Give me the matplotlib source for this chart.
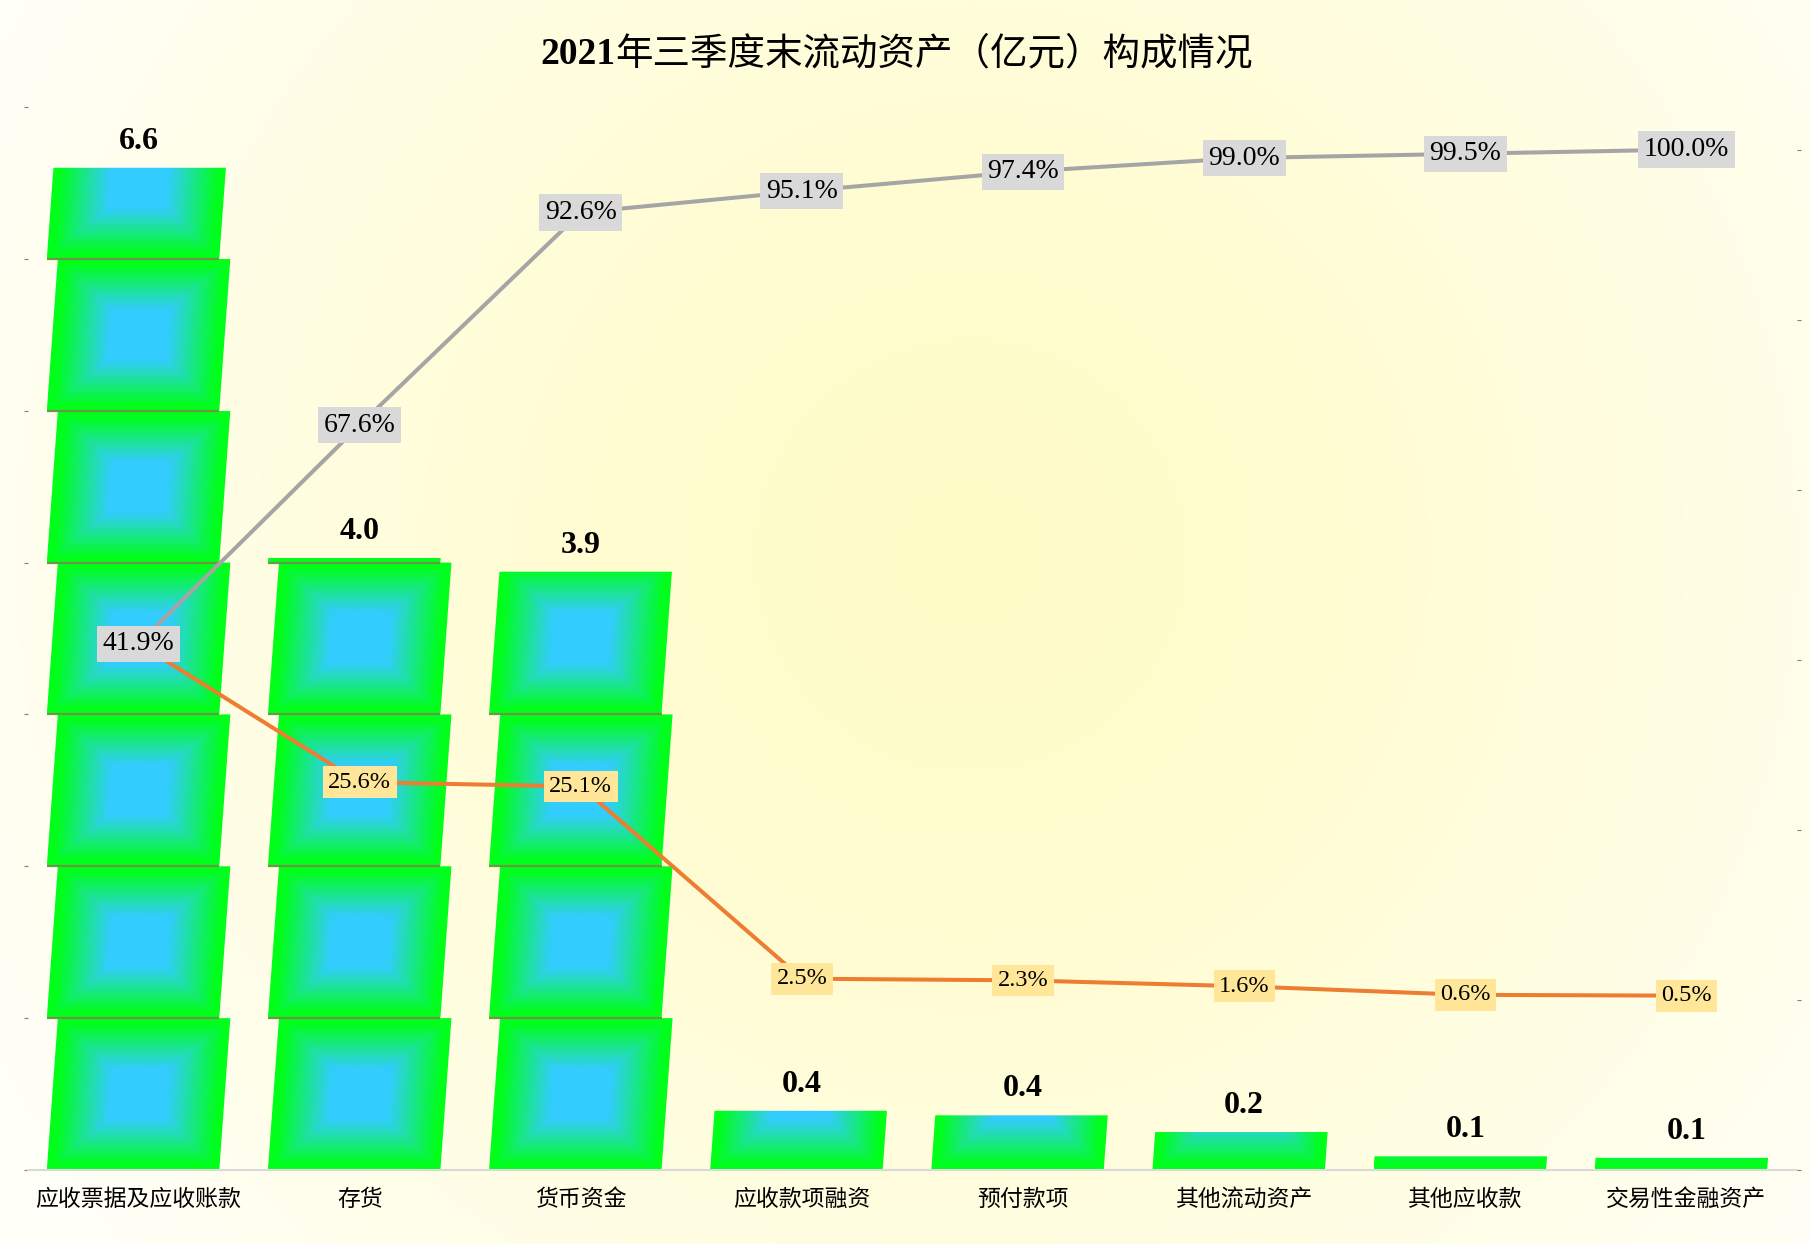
import numpy as np
import matplotlib.pyplot as plt
from matplotlib.patches import Polygon

categories = ['应收票据及应收账款', '存货', '货币资金', '应收款项融资',
              '预付款项', '其他流动资产', '其他应收款', '交易性金融资产']
amounts = [6.60, 4.03, 3.94, 0.39, 0.36, 0.25, 0.09, 0.08]   # 亿元
share = [0.419, 0.256, 0.251, 0.025, 0.023, 0.016, 0.006, 0.005]
cum_share = [0.419, 0.676, 0.926, 0.951, 0.974, 0.990, 0.995, 1.000]

serif = ['Liberation Serif', 'DejaVu Serif']
cjk = ['Noto Sans CJK SC', 'DejaVu Sans']

fig = plt.figure(figsize=(18.1, 12.44), dpi=100)

# light yellow radial background
bg = fig.add_axes([0, 0, 1, 1], zorder=-10)
gx, gy = np.meshgrid(np.linspace(0, 1, 362), np.linspace(0, 1, 249))
r = np.sqrt(((gx - 0.536) * 1810) ** 2 + ((gy - 0.554) * 1244) ** 2) / 1110
r = np.clip(r, 0, 1)[..., None] ** 1.4
c_in = np.array([255, 252, 200]) / 255
c_out = np.array([255, 255, 248]) / 255
bg.imshow(c_in * (1 - r) + c_out * r, extent=[0, 1, 0, 1], origin='lower',
          aspect='auto', interpolation='bilinear')
bg.axis('off')

ax = fig.add_axes([28 / 1810, 1 - 1170 / 1244, 1769 / 1810, 1063 / 1244])
ax.patch.set_visible(False)
x = np.arange(len(categories))

blue = np.array([51, 204, 255]) / 255
green = np.array([0, 255, 26]) / 255
bar_w = 0.78
skew = 0.05

bars = ax.bar(x, amounts, width=bar_w, color='none', linewidth=0)
for rect in bars:
    cx = rect.get_x() + rect.get_width() / 2
    top = rect.get_height()
    x0 = cx - bar_w / 2 - skew / 2
    k = 0
    while k < top - 1e-9:
        h = min(1.0, top - k)
        xs = np.linspace(x0, x0 + bar_w + skew, 200)
        ts = np.linspace(0, h, max(int(h * 150), 2))
        XX, TT = np.meshgrid(xs, ts)
        U = (XX - (x0 + skew * TT)) / bar_w
        D = np.maximum(np.abs(U - 0.5), np.abs(TT - 0.5)) / 0.5
        m = np.clip((D - 0.33) / 0.6, 0, 1)[..., None]
        img = blue * (1 - m) + green * m
        im = ax.imshow(img, extent=[xs[0], xs[-1], k, k + h], origin='lower',
                       aspect='auto', interpolation='bilinear', zorder=2)
        corners = [(x0, k), (x0 + bar_w, k), (x0 + bar_w + skew * h, k + h),
                   (x0 + skew * h, k + h)]
        im.set_clip_path(Polygon(corners, closed=True, transform=ax.transData))
        if k > 0:
            ax.plot([x0, x0 + bar_w], [k, k], color='#6E9646', lw=1.6,
                    solid_capstyle='butt', zorder=3)
        k += 1
    ax.annotate(f'{top:.1f}', (cx, top), xytext=(0, 19), textcoords='offset points',
                ha='center', va='center', fontsize=23, fontweight='bold',
                family=serif, color='black')

ax.set_xlim(-0.5, len(categories) - 0.5)
ax.set_ylim(0, 7)
ax.set_yticks(range(8))
ax.tick_params(axis='y', length=3, width=0.8, color='#7F7F7F', labelleft=False)
ax.set_xticks(x)
ax.set_xticklabels(categories, fontsize=16.5, family=cjk, color='black')
ax.tick_params(axis='x', length=0, pad=13)
for s in ['top', 'left', 'right']:
    ax.spines[s].set_visible(False)
ax.spines['bottom'].set_color('#D9D9D9')
ax.spines['bottom'].set_linewidth(1.5)

ax2 = ax.twinx()
ax2.set_ylim(-0.2, 1.05)
ax2.set_yticks(np.arange(-0.2, 1.01, 0.2))
ax2.tick_params(axis='y', length=3, width=0.8, color='#7F7F7F', labelright=False)
for s in ax2.spines.values():
    s.set_visible(False)

ax2.plot(x, share, color='#ED7D31', lw=2.9, solid_joinstyle='round', zorder=2)
ax2.plot(x, cum_share, color='#A5A5A5', lw=2.9, solid_joinstyle='round', zorder=2)
for xi, p, c in zip(x, share, cum_share):
    if p == c:
        continue  # hidden under the cumulative label in the original
    ax2.text(xi, p, f'{p:.1%}', ha='center', va='center', fontsize=17.5,
             family=serif, color='black', zorder=4,
             bbox=dict(boxstyle='square,pad=0.22', fc='#FFE699', ec='none'))
for xi, p in zip(x, cum_share):
    ax2.text(xi, p, f'{p:.1%}', ha='center', va='center', fontsize=20,
             family=serif, color='black', zorder=5,
             bbox=dict(boxstyle='square,pad=0.2', fc='#D9D9D9', ec='none'))

# title: bold serif year + CJK text
fig.text(615 / 1810, 1 - 54 / 1244, '2021', ha='right', va='center',
         fontsize=27, fontweight='bold', family=serif)
fig.text(615 / 1810, 1 - 54 / 1244, '年三季度末流动资产（亿元）构成情况',
         ha='left', va='center', fontsize=27, family=cjk)

fig.savefig('out.png', dpi=100)
